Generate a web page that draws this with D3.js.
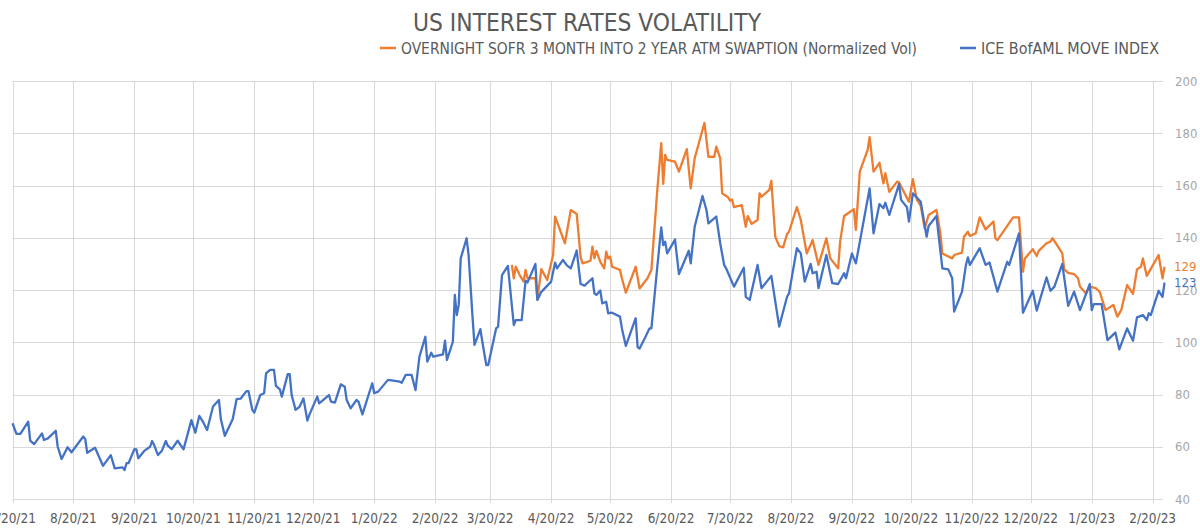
<!DOCTYPE html>
<html>
<head>
<meta charset="utf-8">
<script src="https://cdn.jsdelivr.net/npm/d3@7"></script>
<style>
  body { margin: 0; background: #fff; }
  svg text { font-family: "Liberation Sans Narrow", "DejaVu Sans Condensed", "Roboto Condensed", sans-serif; font-stretch: condensed; }
</style>
</head>
<body>
<div id="chart"></div>
<script>
let w = 1200;
let h = 528;

let title = "US INTEREST RATES VOLATILITY";
let seriesNames = ["OVERNIGHT SOFR 3 MONTH INTO 2 YEAR ATM SWAPTION (Normalized Vol)", "ICE BofAML MOVE INDEX"];
let seriesColors = ["#ED7D31", "#4472C4"];

let xTickLabels = ["7/20/21","8/20/21","9/20/21","10/20/21","11/20/21","12/20/21","1/20/22","2/20/22","3/20/22","4/20/22","5/20/22","6/20/22","7/20/22","8/20/22","9/20/22","10/20/22","11/20/22","12/20/22","1/20/23","2/20/23"];
let yTicks = [40, 60, 80, 100, 120, 140, 160, 180, 200];

// ICE BofAML MOVE index
let moveDates = [
  "7/20/21","7/22/21","7/24/21","7/28/21","7/29/21","7/31/21",
  "8/4/21","8/5/21","8/7/21","8/11/21","8/12/21","8/14/21","8/17/21","8/19/21","8/25/21","8/26/21","8/27/21","8/31/21",
  "9/4/21","9/8/21","9/10/21","9/14/21","9/15/21","9/16/21","9/17/21","9/20/21","9/21/21","9/22/21","9/25/21","9/28/21","9/29/21","9/30/21",
  "10/2/21","10/4/21","10/6/21","10/7/21","10/9/21","10/12/21","10/15/21","10/19/21","10/21/21","10/23/21","10/25/21","10/27/21","10/30/21",
  "11/2/21","11/3/21","11/5/21","11/9/21","11/11/21","11/13/21","11/16/21","11/17/21","11/19/21","11/20/21","11/23/21","11/25/21","11/26/21","11/28/21","11/30/21",
  "12/1/21","12/3/21","12/4/21","12/7/21","12/8/21","12/9/21","12/11/21","12/13/21","12/15/21","12/17/21","12/18/21","12/22/21","12/23/21","12/28/21","12/29/21","12/31/21",
  "1/3/22","1/5/22","1/6/22","1/8/22","1/11/22","1/12/22","1/14/22","1/19/22","1/20/22","1/22/22","1/27/22",
  "2/2/22","2/3/22","2/5/22","2/8/22","2/10/22","2/12/22","2/15/22","2/16/22","2/18/22","2/19/22","2/24/22","2/25/22","2/26/22",
  "3/1/22","3/2/22","3/3/22","3/4/22","3/5/22","3/8/22","3/9/22","3/11/22","3/12/22","3/15/22","3/16/22","3/18/22","3/19/22","3/23/22","3/24/22","3/26/22","3/29/22",
  "4/1/22","4/2/22","4/5/22","4/7/22","4/8/22","4/12/22","4/13/22","4/15/22","4/20/22","4/22/22","4/23/22","4/26/22","4/28/22","4/30/22",
  "5/3/22","5/5/22","5/7/22","5/11/22","5/12/22","5/13/22","5/15/22","5/16/22","5/18/22","5/19/22","5/21/22","5/25/22","5/26/22","5/28/22",
  "6/2/22","6/3/22","6/4/22","6/7/22","6/9/22","6/10/22","6/13/22","6/15/22","6/16/22","6/17/22","6/18/22","6/22/22","6/24/22","6/29/22","6/30/22",
  "7/2/22","7/6/22","7/8/22","7/9/22","7/13/22","7/15/22","7/17/22","7/18/22","7/22/22","7/27/22","7/28/22","7/30/22",
  "8/3/22","8/5/22","8/10/22","8/14/22","8/18/22","8/19/22","8/23/22","8/25/22","8/27/22","8/30/22","8/31/22",
  "9/2/22","9/3/22","9/7/22","9/10/22","9/13/22","9/16/22","9/17/22","9/20/22","9/22/22","9/29/22",
  "10/1/22","10/4/22","10/6/22","10/7/22","10/9/22","10/14/22","10/15/22","10/18/22","10/19/22","10/21/22","10/25/22","10/28/22","10/29/22",
  "11/2/22","11/5/22","11/8/22","11/10/22","11/11/22","11/15/22","11/17/22","11/18/22","11/19/22","11/24/22","11/27/22","11/29/22",
  "12/3/22","12/8/22","12/9/22","12/14/22","12/16/22","12/21/22","12/23/22","12/28/22","12/30/22",
  "1/1/23","1/5/23","1/8/23","1/11/23","1/14/23","1/19/23","1/20/23","1/21/23","1/25/23","1/28/23",
  "2/1/23","2/3/23","2/7/23","2/10/23","2/12/23","2/15/23","2/17/23","2/18/23","2/19/23","2/23/23","2/25/23","2/26/23"
];
let moveValues = [
  69.0,64.9,64.9,69.6,62.3,61.0,
  65.1,62.6,63.2,66.1,60.0,55.3,59.8,57.9,63.9,62.9,57.7,59.6,
  52.7,56.8,51.7,52.1,51.1,53.7,53.7,59.1,59.0,55.6,58.4,60.0,62.2,60.7,
  56.8,58.5,62.2,60.4,59.1,62.3,59.0,70.2,65.4,71.8,69.4,66.4,75.4,
  77.9,70.5,64.2,70.5,78.2,78.4,81.3,81.3,74.1,73.1,79.8,80.5,88.1,89.4,89.4,
  83.3,82.0,79.2,87.8,87.8,79.8,74.1,75.3,78.5,70.0,72.2,79.2,76.6,79.8,77.3,76.9,
  83.9,83.0,77.9,74.7,77.9,77.3,72.4,84.3,80.5,81.1,85.6,
  84.9,84.5,87.5,87.5,81.7,94.5,102.1,92.6,96.0,94.5,95.4,100.6,93.2,
  100.2,118.1,110.4,114.3,132.1,139.8,133.4,109.8,99.0,105.0,100.2,91.3,91.3,105.3,106.0,125.7,129.2,
  106.6,108.5,108.5,123.6,122.9,130.0,116.2,119.3,123.2,130.5,128.3,131.5,129.4,128.3,
  135.1,122.3,121.7,124.5,118.7,118.1,119.8,114.9,115.5,111.1,111.3,109.8,105.3,98.6,
  109.2,98.1,97.6,102.1,105.3,105.3,128.9,144.0,137.2,138.5,134.0,139.3,126.1,135.0,130.2,
  144.2,156.0,150.6,145.5,148.1,137.9,129.6,128.3,121.3,128.5,117.4,116.2,
  129.6,120.7,125.4,106.0,117.4,118.7,136.0,134.0,123.2,130.0,126.4,
  127.0,120.7,133.4,122.6,122.3,126.4,124.5,134.0,130.2,158.9,
  141.7,152.9,151.3,153.4,148.7,160.6,154.5,151.7,146.2,157.0,153.8,140.4,144.5,
  148.3,128.3,127.9,124.5,111.7,119.4,129.6,132.5,129.6,136.0,129.6,130.5,
  119.4,130.8,129.6,141.7,111.3,119.7,112.1,124.8,119.7,
  121.3,130.0,113.9,119.4,112.3,122.3,112.3,114.6,114.6,100.8,
  103.7,97.3,105.3,100.6,109.5,110.4,108.5,111.1,110.4,119.7,117.4,122.8
];

// Overnight SOFR 3m x 2y ATM swaption, normalized vol
let sofrDates = [
  "3/31/22",
  "4/1/22","4/2/22","4/4/22","4/6/22","4/7/22","4/8/22","4/12/22","4/13/22","4/15/22","4/18/22","4/21/22","4/22/22","4/27/22","4/30/22",
  "5/3/22","5/5/22","5/6/22","5/10/22","5/11/22","5/12/22","5/13/22","5/15/22","5/17/22","5/18/22","5/19/22","5/20/22","5/21/22","5/25/22","5/26/22","5/28/22",
  "6/2/22","6/4/22","6/8/22","6/10/22","6/13/22","6/15/22","6/16/22","6/17/22","6/18/22","6/22/22","6/24/22","6/28/22","6/30/22",
  "7/2/22","7/7/22","7/9/22","7/12/22","7/13/22","7/15/22","7/16/22","7/19/22","7/20/22","7/21/22","7/22/22","7/26/22","7/28/22","7/29/22","7/31/22",
  "8/3/22","8/4/22","8/5/22","8/9/22","8/10/22","8/12/22","8/14/22","8/16/22","8/18/22","8/19/22","8/23/22","8/25/22","8/28/22","8/31/22",
  "9/3/22","9/7/22","9/9/22","9/13/22","9/14/22","9/16/22","9/21/22","9/22/22","9/24/22","9/28/22","9/29/22",
  "10/1/22","10/4/22","10/6/22","10/7/22","10/9/22","10/13/22","10/14/22","10/19/22","10/21/22","10/23/22","10/25/22","10/27/22","10/29/22",
  "11/2/22","11/4/22","11/5/22","11/10/22","11/11/22","11/15/22","11/16/22","11/18/22","11/19/22","11/22/22","11/24/22","11/27/22",
  "12/1/22","12/2/22","12/3/22","12/11/22","12/14/22","12/16/22","12/17/22","12/21/22","12/23/22","12/24/22","12/28/22","12/30/22","12/31/22",
  "1/2/23","1/5/23","1/6/23","1/8/23","1/11/23","1/13/23","1/14/23","1/17/23","1/19/23","1/22/23","1/24/23","1/27/23","1/31/23",
  "2/2/23","2/4/23","2/7/23","2/10/23","2/12/23","2/14/23","2/15/23","2/17/23","2/23/23","2/25/23","2/26/23"
];
let sofrValues = [
  129.6,
  124.5,128.9,125.7,123.2,127.7,124.5,124.5,116.4,128.0,123.8,133.4,148.1,137.9,150.6,
  149.1,132.5,130.2,131.2,136.6,132.1,135.0,130.8,128.3,134.7,132.1,132.8,128.9,127.7,124.5,119.0,
  128.9,120.6,124.5,127.7,158.3,176.2,160.6,171.7,169.8,169.1,165.3,173.9,158.9,
  170.4,184.0,171.0,171.0,174.9,170.4,157.0,155.5,154.2,154.7,151.7,152.5,144.2,148.3,145.3,
  146.8,157.0,155.7,158.3,161.8,140.4,136.8,136.3,141.4,142.3,151.7,146.8,134.0,139.1,
  129.6,139.8,132.1,128.3,138.5,148.3,150.9,143.0,165.3,173.6,178.5,
  165.3,168.7,160.8,164.7,157.6,161.5,161.1,153.8,162.4,154.7,152.2,143.6,148.7,
  150.6,141.7,134.0,132.1,133.4,134.3,140.4,142.3,140.7,141.7,147.8,143.2,
  146.2,139.8,139.1,147.8,147.8,127.0,132.1,135.6,133.0,135.0,137.9,138.5,139.8,
  137.6,134.0,127.9,126.6,126.1,124.5,121.3,118.7,121.3,120.7,119.4,112.3,114.3,
  109.8,112.3,121.9,118.5,127.9,128.9,132.1,125.4,133.4,124.5,128.9
];

let parseDate = d3.timeParse("%m/%d/%y");

let moveData = moveDates.map((d, i) => ({ date: parseDate(d), value: moveValues[i] }));
let sofrData = sofrDates.map((d, i) => ({ date: parseDate(d), value: sofrValues[i] }));

let viz = d3.select("#chart")
  .append("svg")
    .attr("width", w)
    .attr("height", h)
    .attr("viewBox", "0 0 " + w + " " + h);

let xScale = d3.scaleTime()
  .domain([parseDate("7/20/21"), parseDate("2/26/23")])
  .range([12.5, 1164.5]);

let yScale = d3.scaleLinear().domain([40, 200]).range([499, 81]);

let gridColor = "#d9d9d9";

// horizontal gridlines
viz.append("g").attr("class", "hgrid")
  .selectAll("line")
  .data(yTicks)
  .enter()
  .append("line")
    .attr("x1", 12.5)
    .attr("x2", 1163)
    .attr("y1", d => Math.round(yScale(d)) + 0.5)
    .attr("y2", d => Math.round(yScale(d)) + 0.5)
    .attr("stroke", gridColor)
    .attr("stroke-width", 1);

// vertical gridlines + month ticks
let xTickDates = xTickLabels.map(parseDate);
viz.append("g").attr("class", "vgrid")
  .selectAll("line")
  .data(xTickDates)
  .enter()
  .append("line")
    .attr("x1", d => Math.round(xScale(d)) + 0.5)
    .attr("x2", d => Math.round(xScale(d)) + 0.5)
    .attr("y1", yScale(200))
    .attr("y2", yScale(40) + 4)
    .attr("stroke", gridColor)
    .attr("stroke-width", 1);

// x tick labels
viz.append("g").attr("class", "xlabels")
  .selectAll("text")
  .data(xTickLabels)
  .enter()
  .append("text")
    .text(d => d)
    .attr("x", d => xScale(parseDate(d)))
    .attr("y", 523)
    .attr("text-anchor", "middle")
    .attr("font-size", "13.5px")
    .attr("fill", "#595959");

// y tick labels (right side)
viz.append("g").attr("class", "ylabels")
  .selectAll("text")
  .data(yTicks)
  .enter()
  .append("text")
    .text(d => d)
    .attr("x", 1175)
    .attr("y", d => yScale(d) + 4.5)
    .attr("font-size", "13px")
    .attr("fill", "#a6a6a6");

// lines
let line = d3.line()
  .x(d => xScale(d.date))
  .y(d => yScale(d.value));

viz.append("path")
  .datum(sofrData)
  .attr("d", line)
  .attr("fill", "none")
  .attr("stroke", seriesColors[0])
  .attr("stroke-width", 2.3)
  .attr("stroke-linejoin", "round");

viz.append("path")
  .datum(moveData)
  .attr("d", line)
  .attr("fill", "none")
  .attr("stroke", seriesColors[1])
  .attr("stroke-width", 2.3)
  .attr("stroke-linejoin", "round");

// last value labels
let lastPoints = [sofrData[sofrData.length - 1], moveData[moveData.length - 1]];
viz.append("g").attr("class", "endlabels")
  .selectAll("text")
  .data(lastPoints)
  .enter()
  .append("text")
    .text(d => Math.round(d.value))
    .attr("x", 1174)
    .attr("y", (d, i) => yScale(d.value) + 4.5)
    .attr("font-size", "13px")
    .attr("fill", (d, i) => seriesColors[i]);

// title
viz.append("text")
  .text(title)
  .attr("x", 587)
  .attr("y", 31)
  .attr("text-anchor", "middle")
  .attr("font-size", "24px")
  .attr("textLength", 348)
  .attr("lengthAdjust", "spacingAndGlyphs")
  .attr("fill", "#595959");

// legend
let legendX = [380, 960];
let legendWidths = [516, 178];
let legend = viz.append("g").attr("class", "legend");
seriesNames.forEach((name, i) => {
  legend.append("line")
    .attr("x1", legendX[i])
    .attr("x2", legendX[i] + 16)
    .attr("y1", 48)
    .attr("y2", 48)
    .attr("stroke", seriesColors[i])
    .attr("stroke-width", 2.5);
  legend.append("text")
    .text(name)
    .attr("x", legendX[i] + 21)
    .attr("y", 53.5)
    .attr("font-size", "15px")
    .attr("textLength", legendWidths[i])
    .attr("lengthAdjust", "spacingAndGlyphs")
    .attr("fill", "#595959");
});
</script>
</body>
</html>
